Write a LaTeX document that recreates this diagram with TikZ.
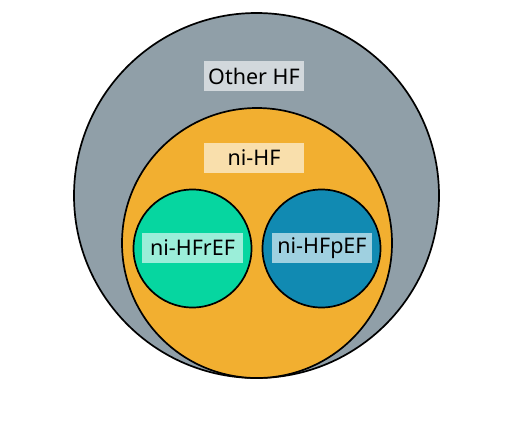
\documentclass[tikz,border=0pt]{standalone}
\usepackage{fontspec}
\setmainfont{Noto Sans}
\definecolor{grayc}{HTML}{909FA8}
\definecolor{orangec}{HTML}{F2AF30}
\definecolor{greenc}{HTML}{06D6A0}
\definecolor{bluec}{HTML}{118AB2}
\begin{document}
\begin{tikzpicture}[x=1pt,y=-1pt,
  ring/.style={circle,draw=black,line width=1.7pt,inner sep=0pt},
  lab/.style={fill=white,fill opacity=0.6,text opacity=1,inner sep=0pt,minimum height=30pt,font=\fontsize{21.5}{21.5}\selectfont}]
\useasboundingbox (0,0) rectangle (505,421);
\node[ring,fill=grayc,minimum size=365pt] (outer) at (256.5,195.5) {};
\node[ring,fill=orangec,minimum size=270pt] (mid) at (257,243) {};
\node[ring,fill=greenc,minimum size=118pt] (rr) at (192.5,248.5) {};
\node[ring,fill=bluec,minimum size=118pt] (pp) at (321.5,248.5) {};
\node[lab,minimum width=100pt] (tother) at (254,76) {Other HF};
\node[lab,minimum width=100pt] (tni) at (254,158) {ni-HF};
\node[lab,minimum width=101pt] (tr) at (192.5,248) {ni-HFrEF};
\node[lab,minimum width=100pt] (tp) at (322,248) {ni-HFpEF};
\end{tikzpicture}
\end{document}
